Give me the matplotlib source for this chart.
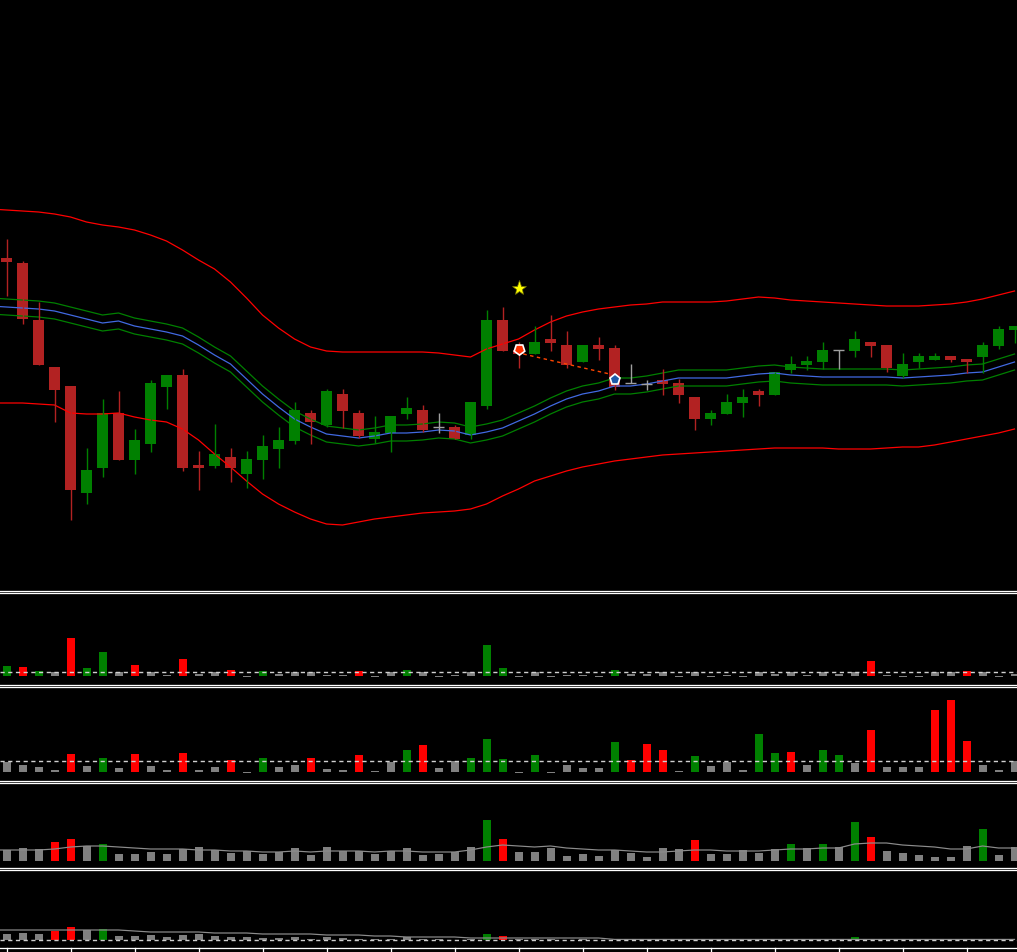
import numpy as np
import matplotlib
matplotlib.use('Agg')
import matplotlib.pyplot as plt
from matplotlib.lines import Line2D
from matplotlib import transforms

### DATA ######################################################################
# candles (price units, arbitrary scale)
opens  = [341,336,279,232,213,106,131,186,139,155,212,224,134,133,142,125,
          139,150,158,186,174,205,186,160,166,185,189,172,172,164,193,279,
          249,245,260,254,237,254,251,216,215,219,216,202,180,185,196,208,
          204,229,234,237,249,248,257,254,223,237,239,243,240,242,253,269]
highs  = [360,338,297,232,213,151,200,208,170,219,224,230,148,175,151,148,
          164,172,197,189,210,210,189,183,183,202,194,186,174,197,289,292,
          257,273,284,268,254,262,254,235,219,230,220,202,189,205,210,210,
          227,243,243,257,249,268,257,254,246,246,246,243,240,257,273,273]
lows   = [303,275,234,177, 79, 95,122,139,125,147,190,128,109,131,117,111,
          120,131,155,155,172,171,161,156,147,180,167,166,160,160,190,248,
          231,245,248,231,237,239,209,216,209,204,196,169,174,185,182,193,
          204,226,229,230,230,242,242,227,221,231,239,237,226,226,250,256]
closes = [337,280,234,209,109,129,186,139,159,216,224,131,131,145,131,140,
          153,159,189,177,208,188,163,167,183,191,169,172,160,197,279,248,
          245,257,256,234,254,250,212,216,215,215,204,180,186,197,202,204,
          227,235,238,249,249,260,253,231,235,243,243,239,237,254,270,273]

# indicator lines, first value = bar just off-screen on the left
bb_upper = [390,
            389,388,387,385,382,377,374,372,369,364,358,349,339,330,317,301,
            284,271,260,252,248,247,247,247,247,247,247,246,244,242,250,255,
            260,269,277,283,287,290,292,294,295,297,297,297,297,298,300,302,
            301,299,298,297,296,295,294,293,293,293,294,295,297,300,304,308]
bb_lower = [196,
            196,196,195,194,186,185,185,186,182,179,177,170,159,145,132,118,
            105, 95, 87, 80, 75, 74, 77, 80, 82, 84, 86, 87, 88, 90, 95,103,
            110,118,123,128,132,135,138,140,142,144,145,146,147,148,149,150,
            151,151,151,151,150,150,150,151,152,152,154,157,160,163,166,170]
ma_mid   = [293,
            292,291,290,288,284,280,276,278,273,270,267,263,254,244,235,220,
            205,192,180,172,165,163,161,163,166,166,167,169,168,164,167,171,
            178,185,193,200,205,208,213,213,215,218,221,221,221,221,223,225,
            226,224,223,222,222,222,222,222,221,222,223,224,226,227,232,237]
env_dev = 8

# signals
star_x, star_y = [32], [311]
sell_x, sell_y = [32], [250]
buy_x, buy_y = [38], [219]
trend_x, trend_y = [32.3, 37.7], [245, 225]

# volume panels: n = neutral, r = red, g = green
vol1 = [10,9,5,4,38,8,24,4,11,4,1,17,2,4,6,-1,5,2,4,4,1,1,5,-1,4,6,4,-1,1,4,31,8,
        -1,4,-1,1,1,-1,6,2,2,4,-1,4,-1,1,-1,4,2,4,1,4,2,4,15,1,-1,-1,4,4,5,4,-1,2]
col1 = 'grgnrggnrnnrnnrngnnnnnrnngnnnngg' + 'nnnnnngnnnnnnnnnnnnnnnrnnnnnrnnn'
lvl1 = 3.7

vol2 = [10,7,5,2,18,6,14,4,18,6,2,19,2,5,12,-1,14,5,7,14,3,2,17,1,10,22,27,4,11,14,33,13,
        -1,17,-1,7,4,4,30,12,28,22,1,16,6,10,2,38,19,20,7,22,17,9,42,5,5,5,62,72,31,7,2,11]
col2 = 'nnnnrngnrnnrnnrngnnrnnrnngrnnggg' + 'ngnnnngrrrngnnnggrnggnrnnnrrrnnn'
lvl2 = 10.7

vol3 = [11,13,12,19,22,15,17,7,7,9,7,12,14,11,8,10,7,9,13,6,14,10,10,7,10,13,6,7,9,14,41,22,
        9,9,13,5,7,5,11,8,4,13,12,21,7,7,11,8,12,17,13,17,14,39,24,10,8,6,4,4,15,32,6,14]
col3 = 'nnnrrngnnnnnnnnnnnnnnnnnnnnnnngr' + 'nnnnnnnnnnnrnnnnngngngrnnnnnngnn'
avg3 = [11,
        11,11,11,12,14,15,15,14,13,12,12,12,11,11,10,10,9,9,10,9,10,10,10,9,10,10,9,9,9,11,14,16,
        15,14,15,13,12,11,11,10,9,9,10,11,11,10,10,10,11,12,12,13,13,17,18,18,16,15,14,12,12,15,13,13]

vol4 = [6,7,6,9,13,10,11,4,4,5,3,5,6,4,3,3,2,2,3,1,3,2,1,1,1,3,1,1,0.5,1,6,4,
        1,1,1,0.5,1,0.5,0.5,0.5,0.5,0.5,0.5,0.5,0.5,0.5,0.5,0.5,0.5,0.5,0.5,0.5,0.5,3,1.5,0.5,0.5,0.5,0.5,0.5,0.5,1,0.5,0.5]
col4 = 'nnnrrngnnnnnnnnnnnnnnnnnnnnnnngr' + 'nnnnnnnnnnnnnnnnnnnnngrnnnnnngnn'
avg4 = [10,
        10,10,10,10,10,10,10,10,9,8,8,8,8,7,7,7,6,6,6,6,5,5,5,4,4,3,3,3,3,2,2,2,
        2,2,2,2,2,2,0.6,0.6,0.6,0.6,0.6,0.6,0.6,0.6,0.6,0.6,0.6,0.6,0.6,0.6,0.6,0.6,0.6,0.6,0.6,0.6,0.6,0.6,0.6,0.6,0.6,0.6]
lvl4 = 0.2
###############################################################################

BULL, BEAR, DOJI = '#008000', '#B22222', '#A0A0A0'
VCOL = {'n': '#808080', 'r': '#FF0000', 'g': '#008000'}
PX = 0.72  # one pixel in points at dpi 100

W, H = 1017, 953
fig = plt.figure(figsize=(W/100, H/100), dpi=100, facecolor='black')

def make_ax(top, bottom):
    ax = fig.add_axes([0, 1-bottom/H, 1, (bottom-top)/H])
    ax.set_facecolor('black')
    ax.set_axis_off()
    ax.set_xlim(-6.5/16, (W-6.5)/16)
    return ax

x = np.arange(len(opens))
xl = np.arange(-1, len(opens))   # x for indicator lines

# main chart
ax = make_ax(0, 591)
ax.set_ylim(9, 600)
ax.plot(xl, bb_upper, color='#FF0000', lw=0.9)
ax.plot(xl, bb_lower, color='#FF0000', lw=0.9)
ax.plot(xl, np.array(ma_mid)+env_dev, color='#008000', lw=0.9)
ax.plot(xl, np.array(ma_mid)-env_dev, color='#008000', lw=0.9)
ax.plot(xl, ma_mid, color='#4169E1', lw=0.9)

for i in range(len(opens)):
    o, h, l, c = opens[i], highs[i], lows[i], closes[i]
    if c > o: col = BULL
    elif c < o: col = BEAR
    else: col = DOJI
    ax.vlines(i, l, h, color=col, lw=1.4*PX)
    if c == o:
        ax.hlines(o, i-0.34, i+0.34, color=col, lw=1.4*PX)
    else:
        ax.bar(i, c-o, bottom=o, width=0.69, color=col, linewidth=0)

ax.plot(trend_x, trend_y, color='#FF4500', lw=1.0, dashes=[2.5, 2.5])
ax.plot(sell_x, sell_y, marker=(5, 0, 180), ms=8, mfc='#FF3000', mec='white', mew=1.2, ls='none')
ax.plot(buy_x, buy_y, marker='p', ms=8, mfc='#1E5AA8', mec='white', mew=1.2, ls='none')
ax.plot(star_x, star_y, marker='*', ms=11, mfc='#FFFF00', mec='#707000', mew=0.5, ls='none')

# volume sub panels
panels = [(594, 685, 677, vol1, col1, None, lvl1),
          (688, 781, 773, vol2, col2, None, lvl2),
          (784, 869, 862, vol3, col3, avg3, None),
          (872, 948, 941, vol4, col4, avg4, lvl4)]
axes = []
for top, bot, base, vals, cols, avg, lvl in panels:
    axv = make_ax(top, bot)
    axv.set_ylim(base-bot, base-top)
    axv.bar(x, vals, width=0.5, color=[VCOL[c] for c in cols], linewidth=0)
    if avg is not None:
        axv.plot(xl, avg, color='#8C8C8C', lw=1.2*PX)
    if lvl is not None:
        axv.axhline(lvl, color='#D0D0D0', lw=1.4*PX, dashes=[3, 2.5])
    axes.append(axv)

# window separators (double white lines) and time axis
for yy in [591.5, 593.5, 685.5, 687.5, 781.5, 783.5, 869.2, 871.2, 948.5]:
    fig.add_artist(Line2D([0, 1], [1-yy/H, 1-yy/H], color='white', lw=1.3*PX,
                          transform=fig.transFigure))
trans = transforms.blended_transform_factory(axes[-1].transData, fig.transFigure)
for t in range(0, 64, 4):
    fig.add_artist(Line2D([t, t], [0, 1-948.5/H], color='white', lw=1.3*PX, transform=trans))

plt.savefig('out.png', dpi=100, facecolor='black')
